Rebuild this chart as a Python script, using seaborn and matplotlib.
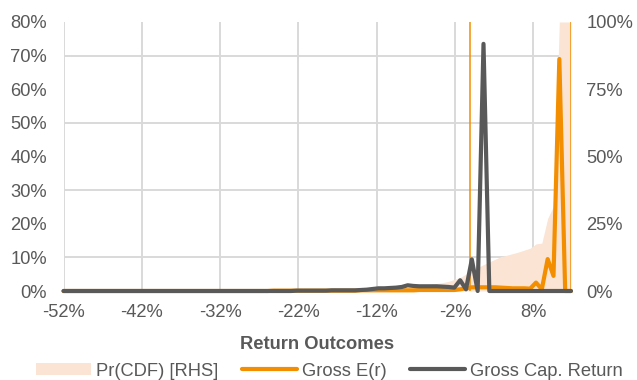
import numpy as np
import pandas as pd
import matplotlib
matplotlib.use("Agg")
import matplotlib.pyplot as plt
import seaborn as sns
from matplotlib.patches import Patch
from matplotlib.lines import Line2D

# ---------------- data ----------------
# return outcome categories (%), -52% ... 12.8%
returns = np.linspace(-52, 12.8, 88)

# Gross Cap. Return (%), left axis
gross_cap = ([0.0] * 40 + [0.1] * 6 + [0.2] * 5 +
             [0.3, 0.4, 0.6, 0.8, 0.8, 0.9, 1.0, 1.2, 1.7, 1.5, 1.4,
              1.4, 1.4, 1.4, 1.3, 1.2, 1.0, 3.2, 0.5, 9.4, 0.0, 73.5] +
             [0.0] * 15)

# Gross E(r) (%), left axis
gross_er = ([0.0] * 36 + [0.1] * 15 + [0.2] * 10 + [0.3] * 7 +
            [0.5, 0.8, 1.1, 1.1, 1.1, 1.1, 1.1, 1.0, 0.9, 0.8,
             0.8, 0.8, 0.7, 2.5, 0.5, 9.5, 4.5, 69.0, 0.0, 0.0])

# Pr(CDF) (%), right axis
cdf = ([0.0] * 46 +
       [0.1, 0.2, 0.2, 0.3, 0.3, 0.4, 0.5, 0.6, 0.7, 0.8, 1.0, 1.1, 1.3,
        1.5, 1.7, 1.9, 2.2, 2.5, 2.8, 3.1, 3.6, 4.3, 5.0, 6.3, 7.5, 8.7,
        9.8, 10.8, 11.8, 12.8, 13.3, 13.9, 14.5, 15.2, 15.9, 17.5, 17.8,
        27.0, 31.5, 100.0, 100.0, 100.0])

# vertical marker lines (return %)
marker_returns = [-0.1, 12.8]

x_ticks = [-52, -42, -32, -22, -12, -2, 8]
x_tick_labels = ["-52%", "-42%", "-32%", "-22%", "-12%", "-2%", "8%"]
left_ticks = [0, 10, 20, 30, 40, 50, 60, 70, 80]
left_tick_labels = ["0%", "10%", "20%", "30%", "40%", "50%", "60%", "70%", "80%"]
right_ticks = [0, 25, 50, 75, 100]
right_tick_labels = ["0%", "25%", "50%", "75%", "100%"]

series_names = ["Pr(CDF) [RHS]", "Gross E(r)", "Gross Cap. Return"]

# ---------------- style ----------------
ORANGE = "#F28E00"
GRAY = "#595959"
PEACH = "#FBE4D3"
GRID = "#D9D9D9"
TXT = "#595959"
FS = 13.2

sns.set_theme(style="white")
plt.rcParams["font.family"] = ["Liberation Sans", "DejaVu Sans"]

fig = plt.figure(figsize=(6.37, 3.80), dpi=100)
L, R, T, B = 63.5, 571.0, 22.0, 291.0
ax = fig.add_axes([L / 637, 1 - B / 380, (R - L) / 637, (B - T) / 380])
ax2 = ax.twinx()
ax.set_zorder(ax2.get_zorder() + 1)
ax.patch.set_visible(False)

df = pd.DataFrame({"ret": returns, "er": gross_er, "cap": gross_cap, "cdf": cdf})

# secondary axis: CDF area + gridlines (below)
ax2.fill_between(df["ret"], 0, df["cdf"], color=PEACH, lw=0, zorder=2)
ax2.set_ylim(0, 100)
ax2.set_yticks(right_ticks)
ax2.set_yticklabels(right_tick_labels)
ax2.set_yticks(np.arange(0, 100.1, 12.5), minor=True)
ax2.xaxis.set_visible(True)
ax2.set_axisbelow(True)
ax2.grid(which="minor", axis="y", color=GRID, lw=1.4)
ax2.grid(which="major", axis="x", color=GRID, lw=1.4)
ax2.grid(which="major", axis="y", visible=False)
ax2.tick_params(axis="x", labelbottom=False, labeltop=False, length=0)
ax2.tick_params(axis="y", which="both", length=0, labelsize=FS,
                labelcolor=TXT, pad=11.0)

# primary axis: lines
for xm in marker_returns:
    ax.axvline(xm, color=ORANGE, lw=1.1, zorder=2)
sns.lineplot(data=df, x="ret", y="er", ax=ax, color=ORANGE, lw=3,
             clip_on=False, zorder=3)
sns.lineplot(data=df, x="ret", y="cap", ax=ax, color=GRAY, lw=3,
             clip_on=False, zorder=4)

ax.set_xlim(returns[0], returns[-1])
ax.set_ylim(0, 80)
ax.set_xticks(x_ticks)
ax.set_xticklabels(x_tick_labels)
ax.set_yticks(left_ticks)
ax.set_yticklabels(left_tick_labels)
ax.grid(False)
ax.tick_params(axis="x", length=0, labelsize=FS, labelcolor=TXT, pad=9.5)
ax.tick_params(axis="y", length=0, labelsize=FS, labelcolor=TXT, pad=12.0)
ax.set_ylabel("")
ax.set_xlabel("Return Outcomes", fontsize=FS, fontweight="bold",
              color=TXT, labelpad=11)
for a in (ax, ax2):
    for s in a.spines.values():
        s.set_visible(False)

handles = [Patch(facecolor=PEACH, edgecolor="none"),
           Line2D([0], [0], color=ORANGE, lw=3),
           Line2D([0], [0], color=GRAY, lw=3)]
leg = fig.legend(handles, series_names, loc="center", ncol=3,
                 bbox_to_anchor=(329.5 / 637, 1 - 371 / 380), frameon=False,
                 fontsize=FS, handlelength=3.0, handleheight=0.55,
                 handletextpad=0.25, columnspacing=1.3, borderaxespad=0)
for t in leg.get_texts():
    t.set_color(TXT)

fig.savefig("out.png", dpi=100, facecolor="white")
